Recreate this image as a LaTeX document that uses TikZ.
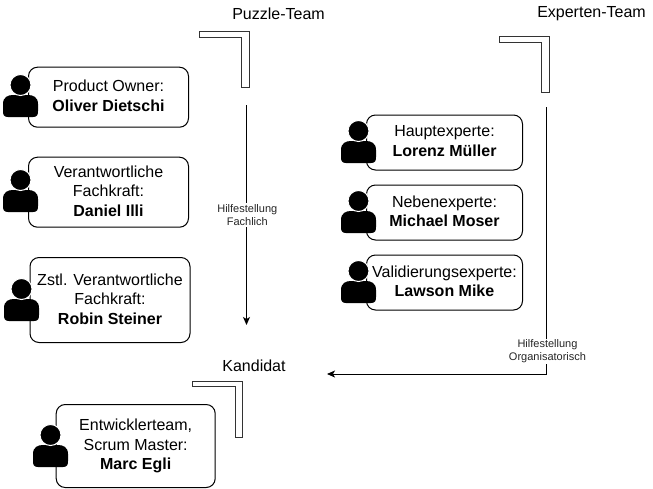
\documentclass[tikz,border=0pt]{standalone}
\usepackage{fontspec}
\setmainfont{Liberation Sans}
\usetikzlibrary{arrows.meta}
\tikzset{
  card/.style={draw=black,line width=1pt,rounded corners=9pt,fill=white,anchor=north west,inner sep=0pt,align=center,
    font=\fontsize{16}{19.5}\selectfont},
  title/.style={font=\fontsize{16}{18}\selectfont,inner sep=0pt},
  corner/.style={draw=black!80,line width=1pt,fill=white},
  flow/.style={draw=black,line width=1pt,-{Stealth[length=8pt,width=7pt,inset=2pt]}},
  hint/.style={fill=white,font=\fontsize{11}{13}\selectfont,align=center,inner sep=1pt,text=black!85},
  pics/person/.style={code={
    \fill[black] (5,22)
      .. controls (1,22) and (0,20) .. (0,16)
      -- (0,9) .. controls (0,2) and (5,0) .. (10,0)
      -- (25,0) .. controls (30,0) and (35,2) .. (35,9)
      -- (35,16) .. controls (35,20) and (34,22) .. (30,22)
      -- cycle;
    \fill[black,draw=white,line width=1pt] (17.5,-10) circle (10.5);
  }}
}
\newcommand{\up}[2][2pt]{\raisebox{#1}{#2}}
\begin{document}
\begin{tikzpicture}[x=1pt,y=-1pt]
\useasboundingbox (0,0) rectangle (653,488);

% titles
\node[title] (tPuzzle) at (278.5,13.5) {Puzzle-Team};
\node[title] (tExperten) at (591.5,13.5) {Experten-Team};
\node[title] (tKandidat) at (254,366) {Kandidat};

% corners
\draw[corner] (199,31) -- (249.3,31) -- (249.3,87.5) -- (241.7,87.5) -- (241.7,37) -- (199,37) -- cycle;
\draw[corner] (499,36.7) -- (549.3,36.7) -- (549.3,92) -- (541.7,92) -- (541.7,42.5) -- (499,42.5) -- cycle;
\draw[corner] (192.3,381) -- (242.3,381) -- (242.3,437) -- (235,437) -- (235,386.8) -- (192.3,386.8) -- cycle;

% cards
\node[card,minimum width=160pt,minimum height=60pt] (po) at (28,66.7) {\up[3pt]{Product Owner:}\\\up[3pt]{\textbf{Oliver Dietschi}}};
\node[card,minimum width=160pt,minimum height=70pt] (vf) at (28,156.7) {\up[3pt]{Verantwortliche}\\\up[3pt]{Fachkraft:}\\\up[3pt]{\textbf{Daniel Illi}}};
\node[card,minimum width=160pt,minimum height=85pt] (zv) at (29.5,257) {\up{Zstl. Verantwortliche}\\\up{Fachkraft:}\\\up{\textbf{Robin Steiner}}};
\node[card,minimum width=159pt,minimum height=83pt] (dev) at (55.7,404) {\up{Entwicklerteam,}\\\up{Scrum Master:}\\\up{\textbf{Marc Egli}}};
\node[card,minimum width=156pt,minimum height=55pt] (he) at (366,114.5) {\up[3pt]{Hauptexperte:}\\\up[3pt]{\textbf{Lorenz Müller}}};
\node[card,minimum width=156pt,minimum height=55pt] (ne) at (366,184.5) {\up[3pt]{Nebenexperte:}\\\up[3pt]{\textbf{Michael Moser}}};
\node[card,minimum width=156pt,minimum height=55pt] (ve) at (366,254.5) {\up[3pt]{Validierungsexperte:}\\\up[3pt]{\textbf{Lawson Mike}}};

% persons
\pic at (3,95) {person};
\pic at (3,190) {person};
\pic at (4,299) {person};
\pic at (33,445) {person};
\pic at (341,141) {person};
\pic at (341,211) {person};
\pic at (341,281) {person};

% connectors
\coordinate (a1) at (246.5,105);
\coordinate (a2) at (246.5,325);
\coordinate (b1) at (546.5,107);
\coordinate (b2) at (546.5,374);
\coordinate (b3) at (327,374);
\draw[flow] (a1) -- (a2);
\node[hint] (h1) at (247.3,215) {Hilfestellung\\Fachlich};
\draw[flow] (b1) -- (b2) -- (b3);
\node[hint] (h2) at (547.5,351.5) {Hilfestellung\\Organisatorisch};
\end{tikzpicture}
\end{document}
